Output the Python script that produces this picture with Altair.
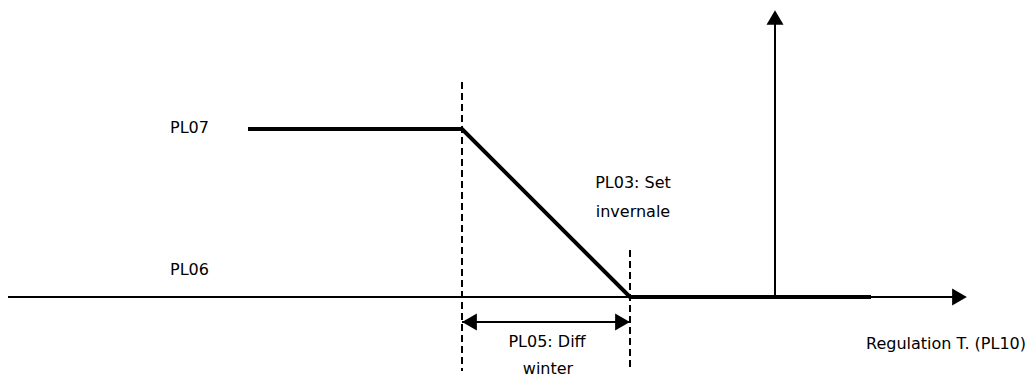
import altair as alt
import pandas as pd

# --- diagram data (in page-like units) ---
profile_x = [248, 462, 630, 871]
profile_y = [129, 129, 297, 297]

# horizontal rules: x start, x end, y
hrule_x1 = [8, 462]
hrule_x2 = [953, 630]
hrule_y = [297, 322]

# vertical solid axis
vaxis_x = [775]
vaxis_y1 = [297]
vaxis_y2 = [24]

# dashed verticals
dash_x = [462, 630]
dash_y1 = [82, 250]
dash_y2 = [371, 371]

# arrowheads
arrow_x = [959.5, 775, 469.5, 622.5]
arrow_y = [297, 17.5, 322, 322]
arrow_shape = ["triangle-right", "triangle-up", "triangle-left", "triangle-right"]

# labels
lab_left_text = ["PL07", "PL06", "Regulation T. (PL10)"]
lab_left_x = [170, 170, 866]
lab_left_y = [128, 270, 344]

lab_center_text = ["PL03: Set", "invernale", "PL05: Diff", "winter"]
lab_center_x = [633, 633, 547, 548]
lab_center_y = [183, 212, 342, 369]

W, H = 1018, 370
xs = alt.Scale(domain=[8, 8 + W], nice=False, zero=False)
ys = alt.Scale(domain=[8, 8 + H], reverse=True, nice=False, zero=False)
FONT = "DejaVu Sans"
FS = 16

profile = alt.Chart(pd.DataFrame({"x": profile_x, "y": profile_y, "o": range(4)})).mark_line(
    color="black", strokeWidth=4, strokeJoin="miter"
).encode(
    x=alt.X("x:Q", scale=xs, axis=None),
    y=alt.Y("y:Q", scale=ys, axis=None),
    order="o:Q",
)

hrules = alt.Chart(pd.DataFrame({"x": hrule_x1, "x2": hrule_x2, "y": hrule_y})).mark_rule(
    color="black", strokeWidth=2
).encode(
    x=alt.X("x:Q", scale=xs, axis=None),
    x2="x2:Q",
    y=alt.Y("y:Q", scale=ys, axis=None),
)

vaxis = alt.Chart(pd.DataFrame({"x": vaxis_x, "y": vaxis_y1, "y2": vaxis_y2})).mark_rule(
    color="black", strokeWidth=2
).encode(
    x=alt.X("x:Q", scale=xs, axis=None),
    y=alt.Y("y:Q", scale=ys, axis=None),
    y2="y2:Q",
)

dashes = alt.Chart(pd.DataFrame({"x": dash_x, "y": dash_y1, "y2": dash_y2})).mark_rule(
    color="black", strokeWidth=2, strokeDash=[7, 4]
).encode(
    x=alt.X("x:Q", scale=xs, axis=None),
    y=alt.Y("y:Q", scale=ys, axis=None),
    y2="y2:Q",
)

arrows = alt.Chart(pd.DataFrame({"x": arrow_x, "y": arrow_y, "s": arrow_shape})).mark_point(
    filled=True, color="black", opacity=1, size=289, strokeWidth=0
).encode(
    x=alt.X("x:Q", scale=xs, axis=None),
    y=alt.Y("y:Q", scale=ys, axis=None),
    shape=alt.Shape("s:N", scale=None, legend=None),
)

left_labels = alt.Chart(pd.DataFrame({"x": lab_left_x, "y": lab_left_y, "t": lab_left_text})).mark_text(
    align="left", baseline="middle", font=FONT, fontSize=FS, color="#000000"
).encode(
    x=alt.X("x:Q", scale=xs, axis=None),
    y=alt.Y("y:Q", scale=ys, axis=None),
    text="t:N",
)

center_labels = alt.Chart(pd.DataFrame({"x": lab_center_x, "y": lab_center_y, "t": lab_center_text})).mark_text(
    align="center", baseline="middle", font=FONT, fontSize=FS, color="#000000"
).encode(
    x=alt.X("x:Q", scale=xs, axis=None),
    y=alt.Y("y:Q", scale=ys, axis=None),
    text="t:N",
)

chart = alt.layer(
    hrules, vaxis, dashes, profile, arrows, left_labels, center_labels
).properties(
    width=W, height=H, padding=0,
    autosize=alt.AutoSizeParams(type="none"),
).configure(
    background="white",
    view=alt.ViewConfig(stroke="transparent", strokeWidth=0),
)

chart.save("out.html", embed_options={"renderer": "svg", "actions": False})
